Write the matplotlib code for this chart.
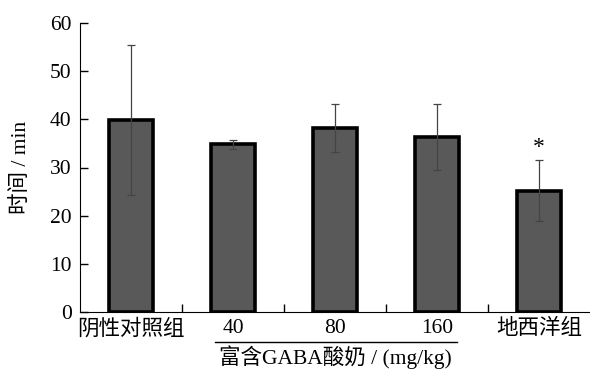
import matplotlib.pyplot as plt

plt.rcParams['font.family'] = ['Liberation Serif', 'Noto Sans CJK SC']

groups = ["阴性对照组", "40", "80", "160", "地西洋组"]
means = [39.8, 34.8, 38.2, 36.3, 25.2]
errs = [15.6, 1.0, 4.9, 6.9, 6.4]
stars = ["", "", "", "", "*"]

fig = plt.figure(figsize=(5.9, 3.7), dpi=100)
ax = fig.add_axes([80/590, 58/370, 510/590, 289/370])

x = list(range(len(groups)))
ax.bar(x, means, width=0.43, color="#595959", edgecolor="black", linewidth=2.6, zorder=2)
ax.errorbar(x, means, yerr=errs, fmt="none", ecolor="#444444", elinewidth=0.9,
            capsize=3, capthick=0.9, zorder=3)
for xi, m, e, s in zip(x, means, errs, stars):
    if s:
        ax.text(xi, m + e + 0.3, s, ha="center", va="bottom", fontsize=17)

ax.set_xlim(-0.5, 4.5)
ax.set_ylim(0, 60)
ax.set_yticks(range(0, 61, 10))
ax.set_xticks(x)
ax.set_xticklabels(groups)
ax.set_xticks([0.5, 1.5, 2.5, 3.5], minor=True)
ax.tick_params(axis="x", which="major", length=0, pad=5, labelsize=15.5)
ax.tick_params(axis="x", which="minor", direction="in", length=6, width=1)
ax.tick_params(axis="y", direction="in", length=6, width=1, pad=6, labelsize=15.5)
ax.spines["top"].set_visible(False)
ax.spines["right"].set_visible(False)
ax.set_ylabel("时间 / min", fontsize=15.5, labelpad=14)

trans = ax.get_xaxis_transform()
ax.plot([0.82, 3.2], [-0.103, -0.103], color="black", linewidth=1, transform=trans, clip_on=False)
ax.text(2.0, -0.155, "富含GABA酸奶 / (mg/kg)", ha="center", va="center", fontsize=15.5,
        transform=trans)

fig.savefig("out.png", dpi=100)
